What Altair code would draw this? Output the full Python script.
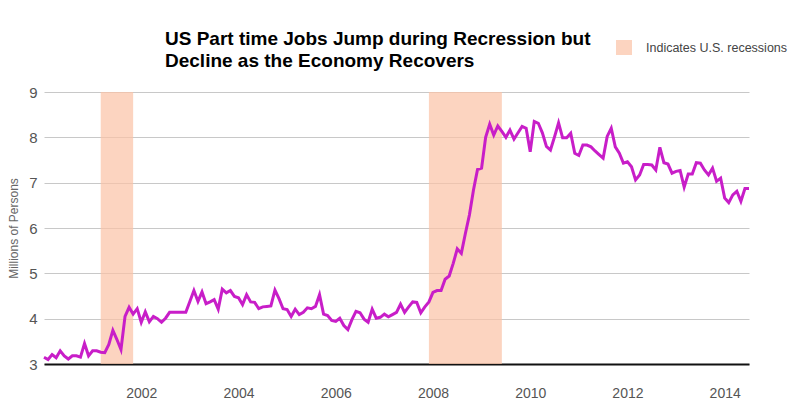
import altair as alt
import pandas as pd

# Monthly US part-time employment for economic reasons (millions), Jan 2000 onward
part_time_millions = [
    3.15, 3.10, 3.21, 3.14, 3.29, 3.18, 3.11, 3.18, 3.18, 3.15, 3.45, 3.18,   # 2000
    3.29, 3.29, 3.26, 3.25, 3.43, 3.74, 3.54, 3.32, 4.05, 4.25, 4.10, 4.22,   # 2001
    3.92, 4.15, 3.93, 4.05, 4.00, 3.92, 4.01, 4.14, 4.14, 4.14, 4.14, 4.14,   # 2002
    4.38, 4.62, 4.38, 4.59, 4.33, 4.37, 4.42, 4.21, 4.65, 4.57, 4.62, 4.49,   # 2003
    4.46, 4.31, 4.53, 4.37, 4.36, 4.22, 4.26, 4.27, 4.28, 4.63, 4.44, 4.22,   # 2004
    4.20, 4.05, 4.21, 4.09, 4.14, 4.24, 4.22, 4.27, 4.53, 4.10, 4.07, 3.96,   # 2005
    3.94, 4.01, 3.85, 3.76, 3.98, 4.16, 4.13, 3.99, 3.92, 4.21, 4.01, 4.03,   # 2006
    4.10, 4.04, 4.09, 4.14, 4.32, 4.14, 4.26, 4.37, 4.36, 4.13, 4.26, 4.37,   # 2007
    4.58, 4.62, 4.62, 4.87, 4.94, 5.22, 5.54, 5.44, 5.88, 6.29, 6.84, 7.29,   # 2008
    7.32, 8.00, 8.29, 8.05, 8.25, 8.13, 8.00, 8.16, 7.96, 8.10, 8.24, 8.20,   # 2009
    7.68, 8.35, 8.31, 8.10, 7.80, 7.72, 8.01, 8.32, 7.99, 7.99, 8.09, 7.65,   # 2010
    7.60, 7.83, 7.83, 7.79, 7.70, 7.62, 7.54, 8.02, 8.20, 7.79, 7.65, 7.43,   # 2011
    7.46, 7.35, 7.06, 7.17, 7.40, 7.40, 7.39, 7.28, 7.78, 7.44, 7.41, 7.21,   # 2012
    7.25, 7.27, 6.90, 7.19, 7.19, 7.44, 7.43, 7.28, 7.17, 7.32, 7.03, 7.10,   # 2013
    6.66, 6.56, 6.73, 6.81, 6.59, 6.87, 6.87,                                 # 2014
]
first_month = "2000-01-01"
recession_start = ["2001-03-01", "2007-12-01"]
recession_end = ["2001-11-01", "2009-06-01"]
year_ticks = [2002, 2004, 2006, 2008, 2010, 2012, 2014]
value_ticks = [3, 4, 5, 6, 7, 8, 9]
title_lines = ["US Part time Jobs Jump during Recression but",
               "Decline as the Economy Recovers"]
legend_label = "Indicates U.S. recessions"
y_title = "Millions of Persons"


def frac_year(d):
    d = pd.Timestamp(d)
    return d.year + (d.month - 1) / 12.0


dates = pd.date_range(first_month, periods=len(part_time_millions), freq="MS")
df = pd.DataFrame({"t": [frac_year(d) for d in dates], "v": part_time_millions})
rec = pd.DataFrame({
    "t0": [frac_year(d) for d in recession_start],
    "t1": [frac_year(d) for d in recession_end],
    "lo": [min(value_ticks)] * len(recession_start),
    "hi": [max(value_ticks)] * len(recession_start),
})

BAND = "#fbc2a5"
BAND_OPACITY = 0.7
LINE = "#c81ec8"
FONT = "Liberation Sans"

x_scale = alt.Scale(domain=[2000, 2014.5], nice=False, zero=False)
y_scale = alt.Scale(domain=[3, 9], nice=False, zero=False)

x_axis = alt.Axis(values=year_ticks, format="d", ticks=False, tickSize=0, grid=False,
                  domain=True, domainColor="#111111", domainWidth=2,
                  labelFont=FONT, labelFontSize=14, labelColor="#555555",
                  labelPadding=22, title=None)
y_axis = alt.Axis(values=value_ticks, format="d", ticks=False, tickSize=0, domain=False,
                  grid=True, gridColor="#c8c8c8", gridWidth=1,
                  labelFont=FONT, labelFontSize=15, labelColor="#555555",
                  labelPadding=7, title=y_title, titleFont=FONT,
                  titleFontSize=12, titleFontWeight="normal", titleColor="#666666",
                  titleAngle=270, titleX=-27, titleY=136, titleAlign="center",
                  titleBaseline="alphabetic")

bands = alt.Chart(rec).mark_rect(color=BAND, opacity=BAND_OPACITY).encode(
    x=alt.X("t0:Q", scale=x_scale, axis=x_axis),
    x2="t1:Q",
    y=alt.Y("lo:Q", scale=y_scale, axis=y_axis),
    y2="hi:Q",
)

line = alt.Chart(df).mark_line(color=LINE, strokeWidth=3, strokeJoin="miter").encode(
    x=alt.X("t:Q", scale=x_scale),
    y=alt.Y("v:Q", scale=y_scale),
)

title = alt.Chart(pd.DataFrame({"text": ["\n".join(title_lines)]})).mark_text(
    align="left", baseline="alphabetic", font=FONT, fontSize=19,
    fontWeight="bold", color="#000000", lineBreak="\n", lineHeight=21.5,
).encode(text="text:N", x=alt.value(121), y=alt.value(-47))

legend_box = alt.Chart(pd.DataFrame({"k": [legend_label]})).mark_rect(
    color=BAND, opacity=BAND_OPACITY
).encode(x=alt.value(572), x2=alt.value(588), y=alt.value(-52), y2=alt.value(-37))

legend_text = alt.Chart(pd.DataFrame({"k": [legend_label]})).mark_text(
    align="left", baseline="middle", font=FONT, fontSize=12.5, color="#444444",
).encode(text="k:N", x=alt.value(602), y=alt.value(-44))

chart = alt.layer(bands, line, title, legend_box, legend_text).properties(
    width=705, height=272,
    autosize=alt.AutoSizeParams(type="none"),
    padding={"left": 36, "top": 84, "right": 46, "bottom": 40},
    background="white",
).configure_view(stroke=None)

chart.save("out.html", embed_options={"renderer": "svg", "actions": False})
